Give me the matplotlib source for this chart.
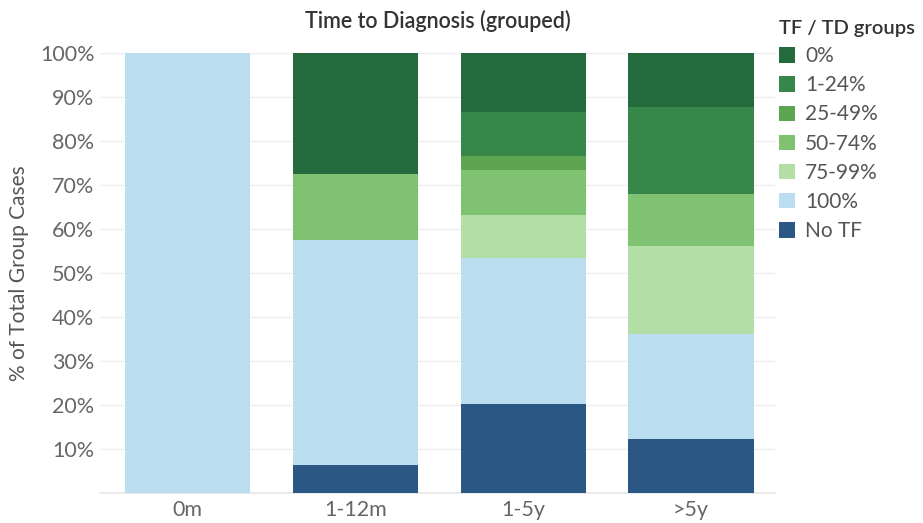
import matplotlib.pyplot as plt
import numpy as np

plt.rcParams['font.family'] = ['Lato', 'DejaVu Sans']

categories = ['0m', '1-12m', '1-5y', '>5y']
groups = ['No TF', '100%', '75-99%', '50-74%', '25-49%', '1-24%', '0%']
no_tf = [0, 6.3, 20.2, 12.2]
full = [100, 51.2, 33.1, 23.9]
p75_99 = [0, 0, 9.9, 20.0]
p50_74 = [0, 15.1, 10.1, 11.8]
p25_49 = [0, 0, 3.2, 0]
p1_24 = [0, 0, 10.2, 19.9]
p0 = [0, 27.4, 13.3, 12.2]
series = [no_tf, full, p75_99, p50_74, p25_49, p1_24, p0]
colors = ['#2a5783', '#badeef', '#b3dfa6', '#7fc372', '#5ea552', '#37874a', '#236a3d']

fig = plt.figure(figsize=(9.23, 5.23), dpi=100)
ax = fig.add_axes([100 / 923, 1 - 493 / 523, 675 / 923, 440 / 523])

x = np.arange(len(categories))
bottom = np.zeros(len(categories))
bars = []
for vals, col, name in zip(series, colors, groups):
    b = ax.bar(x, vals, bottom=bottom, width=0.745, color=col, label=name, zorder=3)
    bars.append(b)
    bottom += np.array(vals)

ax.set_xlim(-0.52, 3.5)
ax.set_ylim(0, 100)
ax.set_yticks(np.arange(10, 101, 10))
ax.set_yticklabels([f'{v}%' for v in range(10, 101, 10)])
ax.set_xticks(x)
ax.set_xticklabels(categories)
ax.tick_params(axis='both', length=0, labelsize=15.5, colors='#666666')
ax.tick_params(axis='x', pad=5)
ax.tick_params(axis='y', pad=4)
ax.grid(axis='y', color='#eeeeee', linewidth=1, zorder=0)
ax.axhline(0, color='#e6e6e6', linewidth=1.2, zorder=2, clip_on=False)
for s in ax.spines.values():
    s.set_visible(False)

ax.set_ylabel('% of Total Group Cases', fontsize=15, color='#555555', labelpad=8)
ax.set_title('Time to Diagnosis (grouped)', fontsize=15.5, color='#333333', fontweight='semibold', pad=18)

# legend in reversed order (0% first)
handles = bars[::-1]
labels = groups[::-1]
leg = fig.legend(handles, labels, loc='upper left', bbox_to_anchor=(779 / 923, 1 - 20 / 523),
                 frameon=False, title='TF / TD groups', fontsize=15, title_fontsize=14.5,
                 handlelength=0.75, handleheight=0.75, handletextpad=0.5, labelspacing=0.44,
                 borderaxespad=0, borderpad=0)
leg.get_title().set_fontweight('semibold')
leg.get_title().set_color('#333333')
leg._legend_box.align = 'left'
for t in leg.get_texts():
    t.set_color('#555555')

fig.savefig('out.png', dpi=100)
